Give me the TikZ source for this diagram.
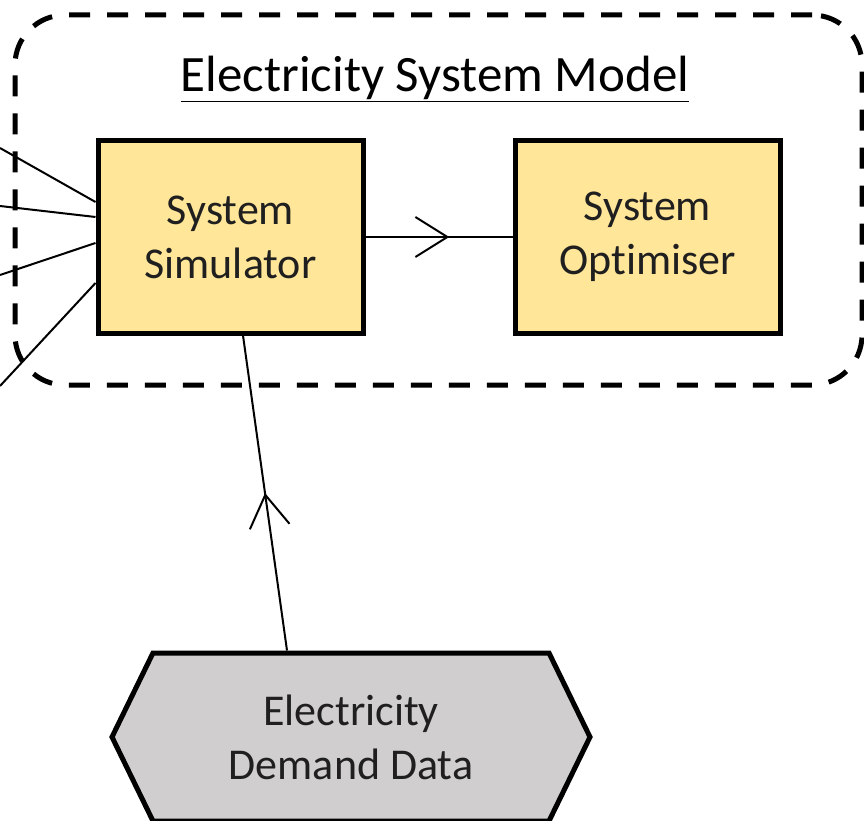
\documentclass[tikz,border=0pt]{standalone}
\usepackage{fontspec}
\setmainfont[RawFeature={-liga;-clig;-calt}]{Carlito}
\usepackage{tikz}
\usetikzlibrary{arrows.meta, shapes.symbols, positioning, decorations.markings}
\definecolor{simyellow}{RGB}{255,230,153}
\definecolor{datagrey}{RGB}{208,206,206}

\begin{document}
\begin{tikzpicture}[
            x=1pt, y=-1pt,
            >={Straight Barb[length=32pt, width=40pt]},
                base/.style = {draw=black, line width=5pt, text=black!88,
                            align=center, font=\fontsize{44}{54}\selectfont},
                block/.style = {base, rectangle, fill=simyellow,
                            minimum width=265pt, minimum height=192pt},
                datasource/.style = {base, signal, signal to=west and east,
                            signal pointer angle=128, fill=datagrey,
                            minimum width=478pt, minimum height=168pt},
                frame/.style = {draw=black, line width=5pt, rounded corners=50pt,
                            dash pattern=on 21pt off 17pt,
                            minimum width=847pt, minimum height=370pt},
                link/.style = {draw=black, line width=2pt},
                midarrow/.style = {link, postaction={decorate},
                            decoration={markings, mark=at position #1 with
                            {\arrow[line width=2pt]{>}}}},
            node distance=147pt]
            \useasboundingbox (0,0) rectangle (864,821);
            \node (model) [frame] at (438.5,200) {};
            \node (title) [anchor=base, font=\fontsize{51}{60}\selectfont] at (435,92) {
                \underline{Electricity System Model}
            };
            \node (sim) [block] at (230.5,237) {
                System \\
                Simulator
            };
            \node (opt) [block, right=of sim] {
                System \\
                Optimiser
            };
            \node (data) [datasource] at (351,737) {
                Electricity \\
                Demand Data
            };
            \foreach \y/\s [count=\i] in {148/35, 206/20, 275/-6, 386/-46} {
                \coordinate (feed\i) at (0,\y);
                \draw[link] (feed\i) -- ([yshift=\s pt]sim.west);
            }
            \draw[midarrow=0.57] (sim) -- (opt);
            \draw[midarrow=0.5] ([xshift=-64pt]data.north) -- ([xshift=12.5pt]sim.south);
        \end{tikzpicture}
\end{document}
